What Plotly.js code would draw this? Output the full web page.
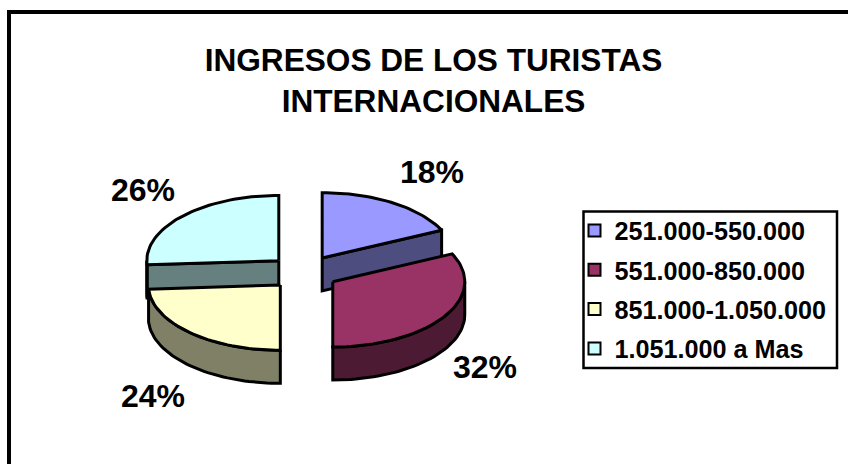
<!DOCTYPE html>
<html><head><meta charset="utf-8"><script src="https://cdn.plot.ly/plotly-3.0.1.min.js"></script>
<style>html,body{margin:0;padding:0;background:#fff}#c{width:848px;height:464px}</style></head>
<body><div id="c"></div><script>
const categories = ['251.000-550.000','551.000-850.000','851.000-1.050.000','1.051.000 a Mas'];
const shares = [18,32,24,26];
const topColors = ['#9999FF','#993366','#FFFFCC','#CCFFFF'];
const sideColors = ['#4D4D80','#4D1A33','#808066','#668080'];
const labelPos = [[432,172],[485,367],[153,396],[143,190]];

const W=848,H=464, cx=303.8, cy=272.5, rx=132, ry=65.3, depth=33, exX=34.3, exY=17.2;
const FONT='Arial, "Liberation Sans", sans-serif';
const total=shares.reduce((a,b)=>a+b,0);
let acc=0;
const slices=shares.map((v,i)=>{const s=acc;acc+=v/total*360;const e=acc;const m=(s+e)/2*Math.PI/180;
  return {i,s,e,ax:cx+exX*Math.sin(m),ay:cy-exY*Math.cos(m)};});
const pt=(sl,a,d=0)=>{const t=a*Math.PI/180;return [sl.ax+rx*Math.sin(t),sl.ay-ry*Math.cos(t)+d];};
const arc=(sl,a,b,d=0)=>{const n=Math.max(2,Math.ceil(Math.abs(b-a)/2));const o=[];for(let k=0;k<=n;k++)o.push(pt(sl,a+(b-a)*k/n,d));return o;};
const poly=(pts,color)=>{const c=pts.concat([pts[0]]);return {type:'scatter',mode:'lines',x:c.map(p=>p[0]),y:c.map(p=>p[1]),fill:'toself',fillcolor:color,
  line:{color:'#000',width:3,shape:'linear'},showlegend:false,hoverinfo:'skip'};};
const traces=[];
[3,0,2,1].forEach(idx=>{const sl=slices[idx];const A=[sl.ax,sl.ay],Ad=[sl.ax,sl.ay+depth];
  if(sl.s>180&&sl.s<360) traces.push(poly([A,pt(sl,sl.s),pt(sl,sl.s,depth),Ad],sideColors[idx]));
  if(sl.e>0&&sl.e<180) traces.push(poly([A,pt(sl,sl.e),pt(sl,sl.e,depth),Ad],sideColors[idx]));
  const a=Math.max(sl.s,90),b=Math.min(sl.e,270);
  if(b>a) traces.push(poly(arc(sl,a,b).concat(arc(sl,b,a,depth)),sideColors[idx]));
  traces.push(poly([A].concat(arc(sl,sl.s,sl.e)),topColors[idx]));
});
categories.forEach((c,i)=>traces.push({type:'scatter',mode:'markers',x:[null],y:[null],name:c,legendgroup:c,
  marker:{symbol:'square',size:14,color:topColors[i],line:{color:'#000',width:2}},hoverinfo:'skip'}));
const annotations=shares.map((v,i)=>({x:labelPos[i][0],y:labelPos[i][1],xref:'x',yref:'y',text:'<b>'+v+'%</b>',showarrow:false,font:{family:FONT,size:32,color:'#000'}}));
const layout={width:W,height:H,margin:{l:0,r:0,t:0,b:0},paper_bgcolor:'#fff',plot_bgcolor:'#fff',
  title:{text:'<b>INGRESOS DE LOS TURISTAS<br>INTERNACIONALES</b>',x:433.5/W,xanchor:'center',y:1-71/H,yanchor:'top',font:{family:FONT,size:31.6,color:'#000'}},
  xaxis:{range:[0,W],visible:false,fixedrange:true},yaxis:{range:[H,0],visible:false,fixedrange:true},
  shapes:[{type:'line',xref:'x',yref:'y',x0:9,x1:9,y0:10,y1:H,line:{color:'#000',width:4}},{type:'line',xref:'x',yref:'y',x0:7,x1:W,y0:12,y1:12,line:{color:'#000',width:4}},
    {type:'rect',xref:'x',yref:'y',x0:583.5,x1:837,y0:211.5,y1:368,line:{color:'#000',width:2.5},fillcolor:'rgba(0,0,0,0)'}],
  annotations,
  legend:{x:583.5/W,xanchor:'left',y:1-207.5/H,yanchor:'top',borderwidth:0,bgcolor:'rgba(0,0,0,0)',tracegroupgap:3.6,itemsizing:'constant',indentation:-9,
    font:{family:FONT,size:25.2,color:'#000',weight:700},traceorder:'grouped'},showlegend:true};
Plotly.newPlot('c',traces,layout,{displayModeBar:false,staticPlot:true});
</script></body></html>
